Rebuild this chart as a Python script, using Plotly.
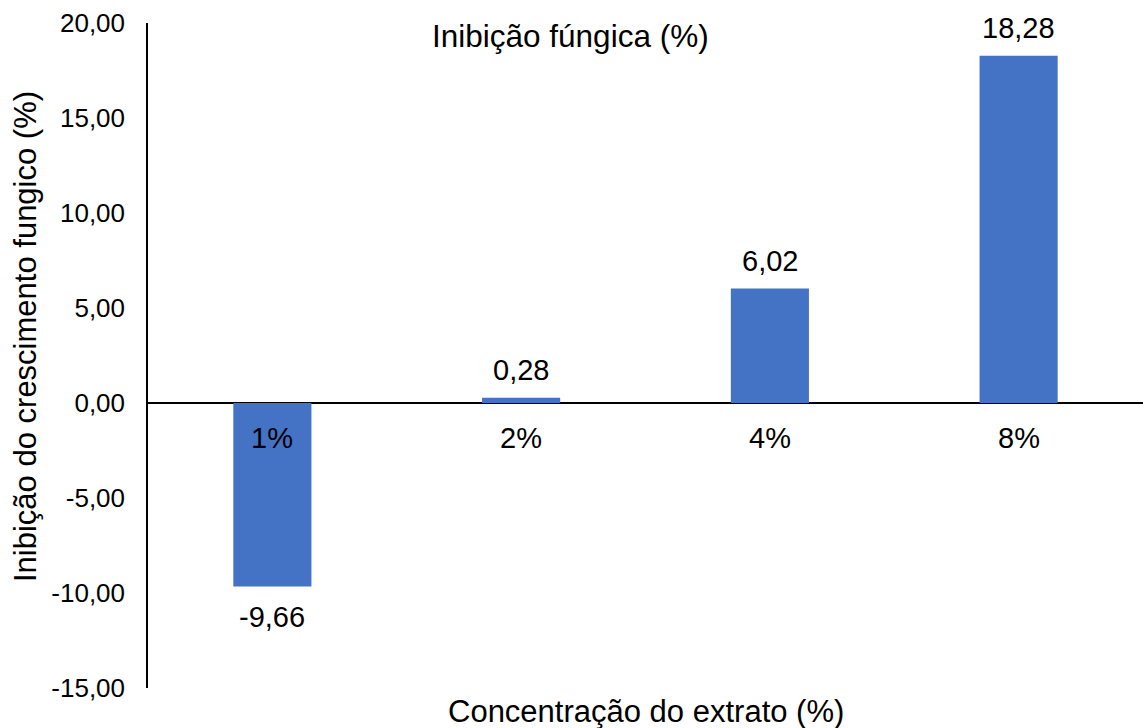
import plotly.graph_objects as go

# Fungal growth inhibition by extract concentration
concentrations = ["1%", "2%", "4%", "8%"]
inhibition = [-9.66, 0.28, 6.02, 18.28]
y_ticks = [-15, -10, -5, 0, 5, 10, 15, 20]


def br(v):
    """Brazilian-style number: two decimals, comma separator, ASCII hyphen."""
    return f"{v:.2f}".replace(".", ",")


FONT = "Liberation Sans, Arial, sans-serif"
BAR_COLOR = "#4472C4"

fig = go.Figure(
    go.Bar(
        x=concentrations,
        y=inhibition,
        marker=dict(color=BAR_COLOR, line=dict(width=0)),
        showlegend=False,
        hoverinfo="x+y",
    )
)

annotations = []
# value labels: above positive bars, below negative bars
for cat, val in zip(concentrations, inhibition):
    annotations.append(dict(
        x=cat, y=val, xref="x", yref="y",
        text=br(val), showarrow=False,
        yanchor="middle", yshift=28 if val >= 0 else -30,
        font=dict(family=FONT, size=29, color="black"),
    ))
# category labels sitting just under the zero line
for cat in concentrations:
    annotations.append(dict(
        x=cat, y=0, xref="x", yref="y",
        text=cat, showarrow=False,
        yanchor="middle", yshift=-35,
        font=dict(family=FONT, size=29, color="black"),
    ))
# chart title inside the plot area
annotations.append(dict(
    x=(570 - 148) / 995, y=1 - (36 - 23) / 665, xref="paper", yref="paper",
    text="Inibição fúngica (%)", showarrow=False,
    xanchor="center", yanchor="middle",
    font=dict(family=FONT, size=31.5, color="black"),
))
# x axis title
annotations.append(dict(
    x=0.5, y=-(711.5 - 688) / 665, xref="paper", yref="paper",
    text="Concentração do extrato (%)", showarrow=False,
    xanchor="center", yanchor="middle",
    font=dict(family=FONT, size=31, color="black"),
))
# y axis title
annotations.append(dict(
    x=-(148 - 25) / 995, y=1 - (337 - 23) / 665, xref="paper", yref="paper",
    text="Inibição do crescimento fungico (%)", showarrow=False,
    textangle=-90, xanchor="center", yanchor="middle",
    font=dict(family=FONT, size=31, color="black"),
))

fig.update_layout(
    width=1143, height=728,
    margin=dict(l=148, r=0, t=23, b=40),
    paper_bgcolor="white", plot_bgcolor="white",
    bargap=0.686,
    font=dict(family=FONT, color="black"),
    annotations=annotations,
    xaxis=dict(
        showticklabels=False, showgrid=False, showline=False,
        zeroline=False, ticks="",
    ),
    yaxis=dict(
        range=[-15, 20],
        tickvals=y_ticks,
        ticktext=[br(v) for v in y_ticks],
        tickfont=dict(family=FONT, size=26, color="black"),
        ticks="", ticklabelstandoff=16,
        showgrid=False,
        showline=True, linecolor="black", linewidth=1.5,
        zeroline=True, zerolinecolor="black", zerolinewidth=1.5,
    ),
)

fig.write_html("out.html")
